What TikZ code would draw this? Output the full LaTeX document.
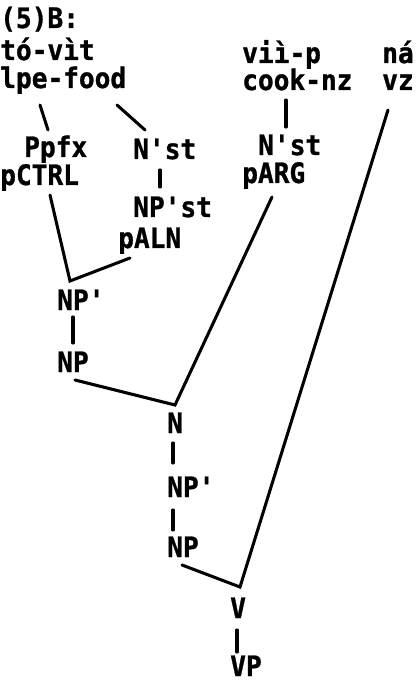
\documentclass[tikz,border=0pt]{standalone}
\usepackage{fontspec}
\setmonofont{DejaVu Sans Mono}[FakeStretch=0.93,BoldFeatures={FakeBold=1}]
\tikzset{
  word/.style={anchor=base west,inner sep=0pt,
    font=\ttfamily\bfseries\fontsize{24}{28}\selectfont},
  branch/.style={line width=2.6pt,line cap=round},
}

\begin{document}
\begin{tikzpicture}[x=0.03cm,y=-0.03cm]
\path[use as bounding box] (0,0) rectangle (417,683);
% top rows
\node[word] (title) at (0,28) {(5)B:};
\node[word] (tovit) at (0,60) {tó-vìt};
\node[word] (lpe) at (0,88) {lpe-food};
\node[word] (viip) at (242,63) {viì-p};
\node[word] (cook) at (242,90) {cook-nz};
\node[word] (na) at (382,63) {ná};
\node[word] (vz) at (382,90) {vz};
% stems
\node[word] (ppfx) at (24,157) {Ppfx};
\node[word] (pctrl) at (0,185) {pCTRL};
\node[word] (nstA) at (133,159) {N'st};
\node[word] (npst) at (133,217) {NP'st};
\node[word] (paln) at (118,248) {pALN};
\node[word] (nstB) at (258,155) {N'st};
\node[word] (parg) at (242,183) {pARG};
% tree
\node[word] (npbarA) at (57,310) {NP'};
\node[word] (npA) at (57,372) {NP};
\node[word] (n) at (167,433) {N};
\node[word] (npbarB) at (167,497) {NP'};
\node[word] (npB) at (167,557) {NP};
\node[word] (v) at (230,618) {V};
\node[word] (vp) at (230,676) {VP};
% branches
\draw[branch] ([shift={(40,17)}]lpe.base west) -- ([shift={(24,-27)}]ppfx.base west);
\draw[branch] ([shift={(117,17)}]lpe.base west) -- ([shift={(12,-29)}]nstA.base west);
\draw[branch] ([shift={(27,11)}]nstA.base west) -- ([shift={(27,-30)}]npst.base west);
\draw[branch] ([shift={(44,10)}]cook.base west) -- ([shift={(28,-28)}]nstB.base west);
\draw[branch] ([shift={(50,10)}]pctrl.base west) -- ([shift={(13,-29)}]npbarA.base west)
  -- ([shift={(12,10)}]paln.base west);
\draw[branch] ([shift={(16,7)}]npbarA.base west) -- ([shift={(16,-29)}]npA.base west);
\draw[branch] ([shift={(18,8)}]npA.base west) -- ([shift={(8,-28)}]n.base west)
  -- ([shift={(30,14)}]parg.base west);
\draw[branch] ([shift={(6,10)}]n.base west) -- ([shift={(6,-34)}]npbarB.base west);
\draw[branch] ([shift={(6,13)}]npbarB.base west) -- ([shift={(6,-27)}]npB.base west);
\draw[branch] ([shift={(15,8)}]npB.base west) -- ([shift={(10,-31)}]v.base west)
  -- ([shift={(6,20)}]vz.base west);
\draw[branch] ([shift={(7,12)}]v.base west) -- ([shift={(7,-24)}]vp.base west);
\end{tikzpicture}
\end{document}
